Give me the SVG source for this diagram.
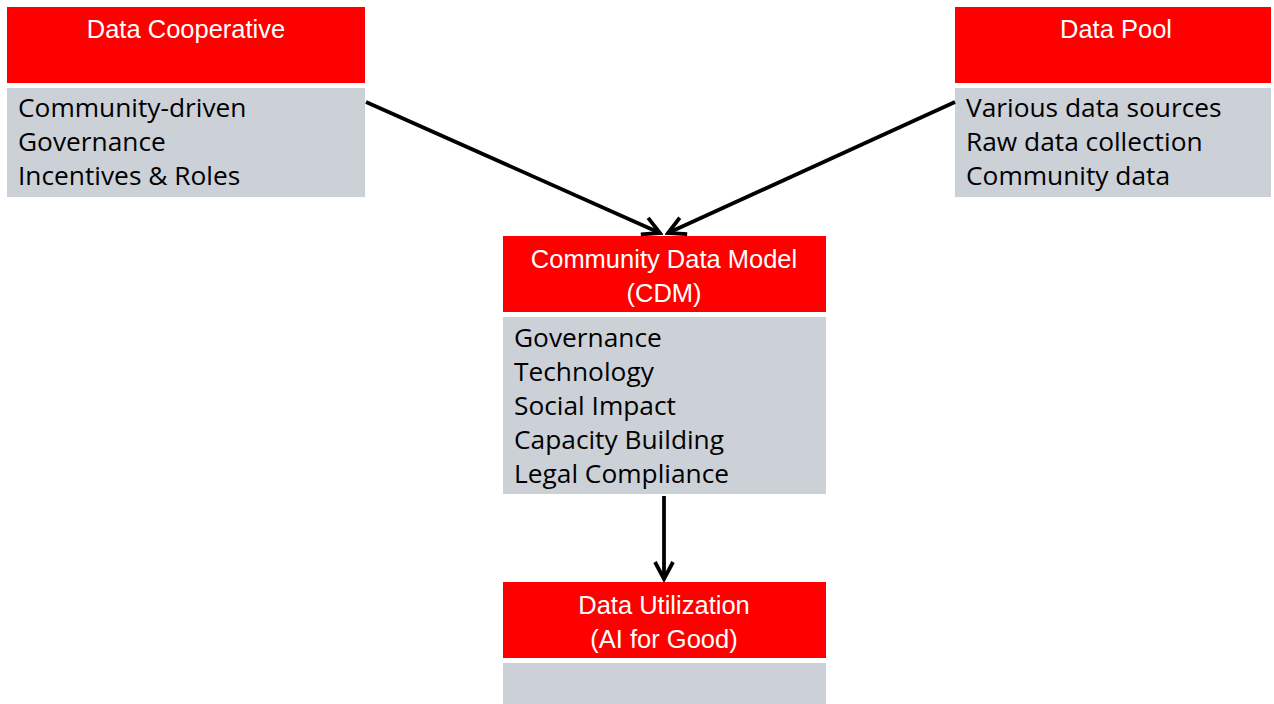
<svg xmlns="http://www.w3.org/2000/svg" width="1274" height="704" viewBox="0 0 1274 704">
<defs>
<style>
.hd{fill:#ff0000}
.bd{fill:#ccd0d7}
.ht{font-family:"Liberation Sans",Arial,sans-serif;font-size:25.5px;fill:#ffffff;text-anchor:middle}
.bt{font-family:"Open Sans","Liberation Sans",Arial,sans-serif;font-size:26.3px;fill:#000000}
.cn{stroke:#000;stroke-width:3.8;fill:none}
</style>
<marker id="ah" viewBox="0 0 22 22" refX="19" refY="11" markerWidth="22" markerHeight="22" markerUnits="userSpaceOnUse" orient="auto">
<polyline points="2,2 19,11 2,20" fill="none" stroke="#000" stroke-width="3.8"/>
</marker>
</defs>
<rect width="1274" height="704" fill="#ffffff"/>
<g id="data-cooperative">
<rect class="hd" x="7" y="7" width="358" height="76"/>
<rect class="bd" x="7" y="88" width="358" height="109"/>
<text class="ht" x="186" y="38">Data Cooperative</text>
<text class="bt" x="18" y="117">Community-driven</text>
<text class="bt" x="18" y="151">Governance</text>
<text class="bt" x="18" y="185">Incentives &amp; Roles</text>
</g>
<g id="data-pool">
<rect class="hd" x="955" y="7" width="316" height="76"/>
<rect class="bd" x="955" y="88" width="316" height="109"/>
<text class="ht" x="1116" y="38">Data Pool</text>
<text class="bt" x="966" y="117">Various data sources</text>
<text class="bt" x="966" y="151">Raw data collection</text>
<text class="bt" x="966" y="185">Community data</text>
</g>
<g id="cdm">
<rect class="hd" x="503" y="236" width="323" height="76"/>
<rect class="bd" x="503" y="317" width="323" height="177"/>
<text class="ht" x="664" y="268">Community Data Model</text>
<text class="ht" x="664" y="302">(CDM)</text>
<text class="bt" x="514" y="347">Governance</text>
<text class="bt" x="514" y="381">Technology</text>
<text class="bt" x="514" y="415">Social Impact</text>
<text class="bt" x="514" y="449">Capacity Building</text>
<text class="bt" x="514" y="483">Legal Compliance</text>
</g>
<g id="data-utilization">
<rect class="hd" x="503" y="582" width="323" height="76"/>
<rect class="bd" x="503" y="663" width="323" height="41"/>
<text class="ht" x="664" y="614">Data Utilization</text>
<text class="ht" x="664" y="648">(AI for Good)</text>
</g>
<g id="connectors">
<line class="cn" x1="366" y1="102" x2="660" y2="233" marker-end="url(#ah)"/>
<line class="cn" x1="955" y1="102" x2="668" y2="233" marker-end="url(#ah)"/>
<line class="cn" x1="664" y1="496" x2="664" y2="579" marker-end="url(#ah)"/>
</g>
</svg>
